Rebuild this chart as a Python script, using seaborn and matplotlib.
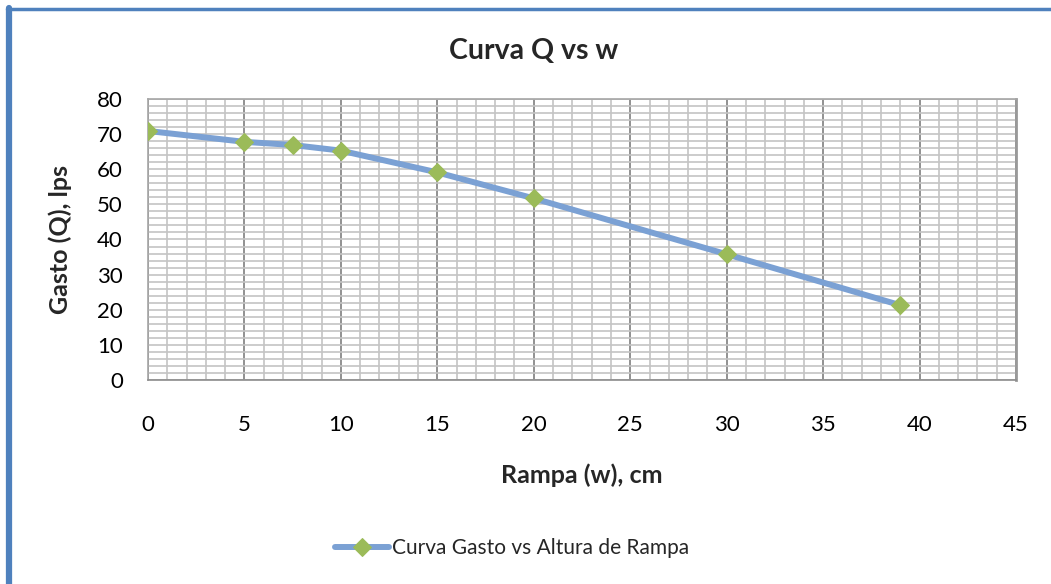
import matplotlib
matplotlib.use('Agg')

import numpy as np
import pandas as pd
import seaborn as sns
import matplotlib.pyplot as plt
from matplotlib.lines import Line2D

# ---------- datos ----------
rampa_cm = [0, 5, 7.5, 10, 15, 20, 30, 39]
gasto_lps = [70.9, 67.8, 66.9, 65.3, 59.1, 51.7, 35.8, 21.3]
x_ticks = list(range(0, 46, 5))
y_ticks = list(range(0, 81, 10))
serie = "Curva Gasto vs Altura de Rampa"

df = pd.DataFrame({"w": rampa_cm, "Q": gasto_lps})

sns.set_theme(style="white")
plt.rcParams['font.family'] = ['Lato', 'DejaVu Sans']

fig = plt.figure(figsize=(10.51, 5.84), dpi=100)
ax = fig.add_axes([0.1408, 0.3493, 0.8259, 0.4812])

sns.lineplot(data=df, x="w", y="Q", ax=ax, color="#7BA1D4", linewidth=4.3,
             marker="D", markersize=9.5, markerfacecolor="#9BBB59",
             markeredgecolor="#9BBB59", label=serie, zorder=5)

ax.set_xlim(0, 45)
ax.set_ylim(0, 80)
ax.set_xticks(x_ticks)
ax.set_yticks(y_ticks)
ax.set_xticks(np.arange(0, 46, 1), minor=True)
ax.set_yticks(np.arange(0, 81, 2), minor=True)
ax.grid(which="minor", color="#C4C4C4", linewidth=1.2)
ax.grid(which="major", axis="y", color="#C4C4C4", linewidth=1.2)
ax.grid(which="major", axis="x", color="#888888", linewidth=1.3)
ax.set_axisbelow(True)
ax.tick_params(which="both", length=0, labelsize=16, colors="black")
ax.tick_params(axis="x", pad=25)
ax.tick_params(axis="y", pad=18)
for s in ax.spines.values():
    s.set_color("#A6A6A6")
    s.set_linewidth(1.2)
ax.spines["right"].set_color("#999999")
ax.spines["right"].set_linewidth(2)
ax.spines["bottom"].set_color("#8C8C8C")

ax.set_xlabel("")
ax.set_ylabel("")
ax.get_legend().remove()

fig.text(534 / 1051, 1 - 51 / 584, "Curva Q vs w", ha="center", va="center",
         fontsize=20.5, fontweight="bold")
fig.text(582 / 1051, 1 - 475 / 584, "Rampa (w), cm", ha="center", va="center",
         fontsize=18, fontweight="bold")
fig.text(60 / 1051, 1 - 240 / 584, "Gasto (Q), lps", ha="center", va="center",
         fontsize=18, fontweight="bold", rotation=90)

handles, labels = ax.get_legend_handles_labels()
fig.legend(handles, labels, loc="center", bbox_to_anchor=(512 / 1051, 1 - 548 / 584),
           frameon=False, fontsize=15, handlelength=2.6, handletextpad=0.1)

# borde azul del área del gráfico (izquierda y arriba)
fig.add_artist(Line2D([9 / 1051, 9 / 1051], [0, 1 - 8 / 584], color="#4F81BD",
                      linewidth=4.5, transform=fig.transFigure))
fig.add_artist(Line2D([7 / 1051, 1], [1 - 8.5 / 584, 1 - 8.5 / 584], color="#4F81BD",
                      linewidth=2.5, transform=fig.transFigure))

fig.savefig("out.png", dpi=100)
